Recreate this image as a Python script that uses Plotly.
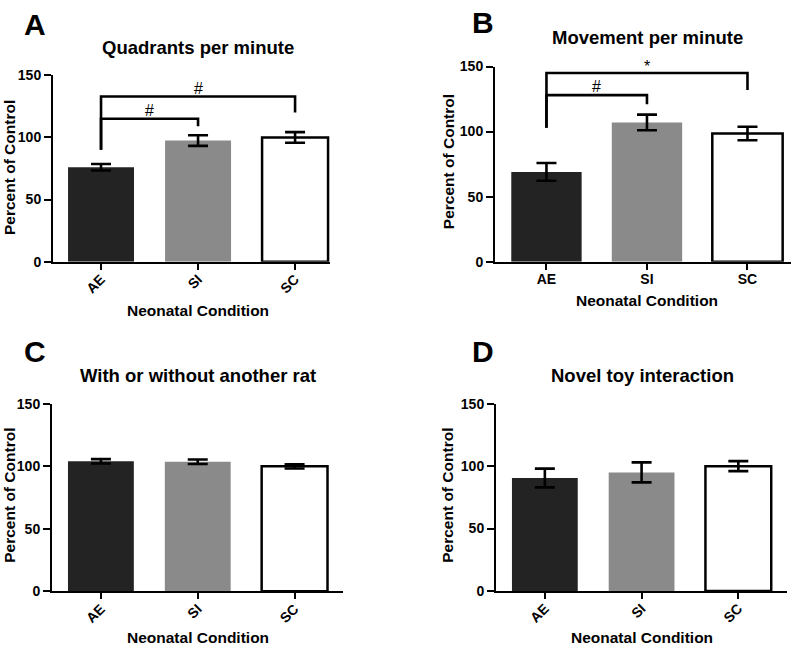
import plotly.graph_objects as go

categories = ["AE", "SI", "SC"]

quadrants_mean = [76, 97.5, 100]
quadrants_err = [2.6, 4.3, 4.3]

movement_mean = [69, 107, 98.5]
movement_err = [6.8, 6.0, 5.2]

with_rat_mean = [104, 103.6, 100]
with_rat_err = [1.7, 1.8, 1.7]

toy_mean = [90.5, 95, 100]
toy_err = [7.5, 8.0, 4.0]

y_ticks = [0, 50, 100, 150]

# significance brackets: (start category, end category, base y, top y, end y, label, label y)
quadrants_brackets = [("AE", "SI", 90, 115, 109, "#", 122), ("AE", "SC", 90, 133, 120, "#", 139)]
movement_brackets = [("AE", "SI", 103, 128, 121, "#", 135), ("AE", "SC", 103, 145, 132, "*", 150)]

bar_colors = ["#232323", "#8a8a8a", "#ffffff"]
bar_line_w = [0, 0, 2.5]

FONT = "Liberation Sans, Arial, sans-serif"

fig = go.Figure()

panels = [
    dict(letter="A", title="Quadrants per minute", mean=quadrants_mean, err=quadrants_err,
         brackets=quadrants_brackets, xd=[53/800, 330/800], yd=[1-260/654, 1-69/654],
         xr=[-0.495, 2.36], bw=0.68, angle=-45, standoff=-4,
         letter_xy=(35, 17), title_xy=(198, 40), ytitle_xy=(10, 164), xtitle_xy=(198, 310)),
    dict(letter="B", title="Movement per minute", mean=movement_mean, err=movement_err,
         brackets=movement_brackets, xd=[495/800, 790.7/800], yd=[1-260/654, 1-60/654],
         xr=[-0.512, 2.43], bw=0.70, angle=0, standoff=-2,
         letter_xy=(483, 15), title_xy=(647.5, 30), ytitle_xy=(448, 158), xtitle_xy=(647, 300)),
    dict(letter="C", title="With or without another rat", mean=with_rat_mean, err=with_rat_err,
         brackets=[], xd=[52/800, 343/800], yd=[1-598/654, 1-405.7/654],
         xr=[-0.505, 2.5], bw=0.68, angle=-45, standoff=-4,
         letter_xy=(35, 352), title_xy=(198, 377), ytitle_xy=(10, 500), xtitle_xy=(198, 645)),
    dict(letter="D", title="Novel toy interaction", mean=toy_mean, err=toy_err,
         brackets=[], xd=[496/800, 786.7/800], yd=[1-597.5/654, 1-405.7/654],
         xr=[-0.505, 2.5], bw=0.68, angle=-45, standoff=-4,
         letter_xy=(483, 352), title_xy=(642, 377), ytitle_xy=(448, 500), xtitle_xy=(642, 645)),
]

annotations = []
layout_axes = {}

for i, p in enumerate(panels):
    n = i + 1
    xa = "x" if n == 1 else f"x{n}"
    ya = "y" if n == 1 else f"y{n}"
    fig.add_trace(go.Bar(
        x=categories, y=p["mean"], xaxis=xa, yaxis=ya, width=p["bw"],
        marker=dict(color=bar_colors, line=dict(color="black", width=bar_line_w)),
        error_y=dict(type="data", array=p["err"], visible=True, color="black",
                     thickness=2.6, width=10),
        showlegend=False, hoverinfo="x+y",
    ))
    for (c0, c1, yb, yt, ye, lab, ly) in p["brackets"]:
        fig.add_trace(go.Scatter(
            x=[c0, c0, c1, c1], y=[yb, yt, yt, ye], xaxis=xa, yaxis=ya,
            mode="lines", line=dict(color="black", width=2.6), showlegend=False,
            hoverinfo="skip", cliponaxis=False,
        ))
        i0 = categories.index(c0)
        i1 = categories.index(c1)
        annotations.append(dict(x=(i0 + i1) / 2, y=ly, xref=xa, yref=ya, text=lab,
                                showarrow=False, font=dict(family=FONT, size=16, color="black")))
    xkey = "xaxis" if n == 1 else f"xaxis{n}"
    ykey = "yaxis" if n == 1 else f"yaxis{n}"
    layout_axes[xkey] = dict(
        domain=p["xd"], anchor=ya, type="category", range=p["xr"],
        showline=True, linecolor="black", linewidth=2, ticks="outside", ticklen=6,
        tickwidth=2, tickcolor="black", showgrid=False, zeroline=False,
        tickangle=p["angle"], ticklabelstandoff=p["standoff"],
        tickfont=dict(family=FONT, size=14, color="black", weight="bold"),
        fixedrange=True,
    )
    layout_axes[ykey] = dict(
        domain=p["yd"], anchor=xa, range=[0, 150], tickvals=y_ticks,
        showline=True, linecolor="black", linewidth=2, ticks="outside", ticklen=7,
        tickwidth=2, tickcolor="black", showgrid=False, zeroline=False,
        tickfont=dict(family=FONT, size=14, color="black", weight="bold"),
        fixedrange=True,
    )
    lx, ly_ = p["letter_xy"]
    annotations.append(dict(x=lx/800, y=1-ly_/654, xref="paper", yref="paper", text=p["letter"],
                            showarrow=False, xanchor="center", yanchor="middle",
                            font=dict(family=FONT, size=30, color="black", weight="bold")))
    tx, ty = p["title_xy"]
    annotations.append(dict(x=tx/800, y=1-ty/654, xref="paper", yref="paper", text=p["title"],
                            showarrow=False, xanchor="center", yanchor="middle",
                            font=dict(family=FONT, size=18.5, color="black", weight="bold")))
    yx, yy = p["ytitle_xy"]
    annotations.append(dict(x=yx/800, y=1-yy/654, xref="paper", yref="paper", text="Percent of Control",
                            showarrow=False, xanchor="center", yanchor="middle", textangle=-90,
                            font=dict(family=FONT, size=15.5, color="black", weight="bold")))
    xx, xy = p["xtitle_xy"]
    annotations.append(dict(x=xx/800, y=1-xy/654, xref="paper", yref="paper", text="Neonatal Condition",
                            showarrow=False, xanchor="center", yanchor="middle",
                            font=dict(family=FONT, size=15.5, color="black", weight="bold")))

fig.update_layout(
    width=800, height=654, margin=dict(l=0, r=0, t=0, b=0),
    plot_bgcolor="white", paper_bgcolor="white", showlegend=False,
    annotations=annotations, barmode="group", **layout_axes,
)

fig.write_html("out.html", config={"displayModeBar": False},
               post_script="document.body.style.margin='0';document.body.style.overflow='hidden';")
